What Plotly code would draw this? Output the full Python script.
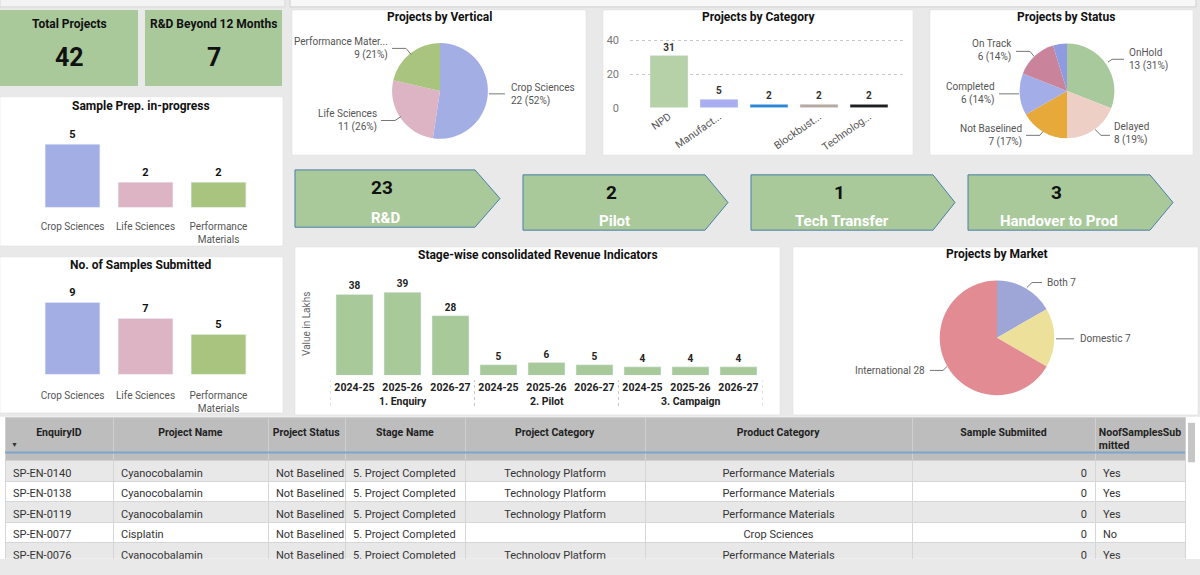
import plotly.graph_objects as go

W, H = 1200, 575
FONT = "Roboto"

def fx(px):
    return px / W

def fy(py):
    return 1 - py / H

# ---------------- DATA ----------------
kpi_titles = ["Total Projects", "R&D Beyond 12 Months"]
kpi_values = [42, 7]

verticals = ["Crop Sciences", "Life Sciences", "Performance Materials"]
vertical_tick_labels = ["Crop Sciences", "Life Sciences", "Performance<br>Materials"]
sample_prep_values = [5, 2, 2]
samples_submitted_values = [9, 7, 5]

vertical_pie_labels = ["Crop Sciences", "Life Sciences", "Performance Materials"]
vertical_pie_values = [22, 11, 9]

category_labels = ["NPD", "Manufact...", "", "Blockbust...", "Technolog..."]
category_values = [31, 5, 2, 2, 2]

status_labels = ["OnHold", "Delayed", "Not Baselined", "Completed", "On Track", "Other"]
status_values = [13, 8, 7, 6, 6, 2]

stage_names = ["R&D", "Pilot", "Tech Transfer", "Handover to Prod"]
stage_counts = [23, 2, 1, 3]

revenue_stages = ["1. Enquiry"] * 3 + ["2. Pilot"] * 3 + ["3. Campaign"] * 3
revenue_years = ["2024-25", "2025-26", "2026-27"] * 3
revenue_values = [38, 39, 28, 5, 6, 5, 4, 4, 4]

market_labels = ["Both", "Domestic", "International"]
market_values = [7, 7, 28]

table_headers = ["EnquiryID", "Project Name", "Project Status", "Stage Name",
                 "Project Category", "Product Category", "Sample Submiited",
                 "NoofSamplesSub<br>mitted"]
col_enquiry = ["SP-EN-0140", "SP-EN-0138", "SP-EN-0119", "SP-EN-0077", "SP-EN-0076"]
col_project = ["Cyanocobalamin", "Cyanocobalamin", "Cyanocobalamin", "Cisplatin", "Cyanocobalamin"]
col_status = ["Not Baselined"] * 5
col_stage = ["5. Project Completed"] * 5
col_pcat = ["Technology Platform", "Technology Platform", "Technology Platform", "", "Technology Platform"]
col_prodcat = ["Performance Materials", "Performance Materials", "Performance Materials",
               "Crop Sciences", "Performance Materials"]
col_sample = [0, 0, 0, 0, 0]
col_noof = ["Yes", "Yes", "Yes", "No", "Yes"]

# ---------------- STYLE ----------------
GREEN = "#a9c99b"
vert_colors = ["#a3aee4", "#dcb4c4", "#a8c47e"]
cat_colors = ["#b6d1a7", "#a9aef0", "#2b87d8", "#b7a8a0", "#1f1f1f"]
status_colors = ["#a8c99b", "#edcfc5", "#e6a93a", "#a3aee8", "#c9849c", "#8e9be0"]
market_colors = ["#9ea6d8", "#ede09a", "#e38b93"]

shapes = []
annotations = []

def rect(x0, y0, x1, y1, fill, line=None, lw=0, layer="below"):
    shapes.append(dict(type="rect", xref="paper", yref="paper",
                       x0=fx(x0), x1=fx(x1), y0=fy(y1), y1=fy(y0),
                       fillcolor=fill, line=dict(color=line or fill, width=lw), layer=layer))

def path(points, color="#777", width=1, fill=None, close=False, layer="above"):
    d = "M " + " L ".join(f"{fx(x):.5f},{fy(y):.5f}" for x, y in points)
    if close:
        d += " Z"
    s = dict(type="path", xref="paper", yref="paper", path=d,
             line=dict(color=color, width=width), layer=layer)
    if fill:
        s["fillcolor"] = fill
    shapes.append(s)

def ann(x, y, text, size=11, color="#222", bold=False, xanchor="center", align="center", angle=0,
        family=FONT, xref="paper"):
    annotations.append(dict(xref=xref, yref="paper", x=fx(x) if xref == "paper" else x, y=fy(y),
                            text=text, showarrow=False, xanchor=xanchor, yanchor="middle",
                            align=align, textangle=angle,
                            font=dict(family=family, size=size, color=color,
                                      weight="bold" if bold else "normal")))

# top strip
rect(0, -5, 285, 7, "#f3f3f3", "#d8d8d8", 1)
rect(290, -5, 1196, 7, "#f7f7f7", "#cfcfcf", 1)

# KPI cards
kpi_boxes = [(0, 10, 138, 87), (145, 10, 282, 87)]
for (x0, y0, x1, y1), t, v in zip(kpi_boxes, kpi_titles, kpi_values):
    rect(x0, y0, x1, y1, GREEN)
    ann((x0 + x1) / 2, 24, t, size=12, color="#111", bold=True)
    ann((x0 + x1) / 2, 58, str(v), size=25, color="#111", bold=True)

# panels
panels = [(0, 98, 283, 249), (0, 260, 283, 418), (292, 10, 586, 157), (603, 10, 913, 157),
          (930, 10, 1193, 157), (295, 250, 780, 420), (793, 250, 1198, 420)]
for p in panels:
    rect(*p, "#ffffff", "#dddddd", 0.5)
rect(0, 422, 1200, 566, "#ffffff")

# titles
ann(141, 107, "Sample Prep. in-progress", 12, "#111", True)
ann(141, 268, "No. of Samples Submitted", 12, "#111", True)
ann(439, 17, "Projects by Vertical", 12, "#111", True)
ann(758, 17, "Projects by Category", 12, "#111", True)
ann(1066, 17, "Projects by Status", 12, "#111", True)
ann(538, 258, "Stage-wise consolidated Revenue Indicators", 12, "#111", True)
ann(997, 257, "Projects by Market", 12, "#111", True)

# chevrons
chevrons = [(295, 475, 500, 172, 230), (523, 705, 728, 177, 233),
            (751, 933, 955, 177, 233), (968, 1150, 1173, 177, 233)]
for (x0, x1, xt, y0, y1), name, cnt in zip(chevrons, stage_names, stage_counts):
    path([(x0, y0), (x1, y0), (xt, (y0 + y1) / 2), (x1, y1), (x0, y1)],
         color="#4a7fa8", width=1, fill=GREEN, close=True, layer="below")
    cx = (x0 + x1) / 2
    ann(cx - 3, y0 + 18, str(cnt), 19, "#111", True)
    ann(cx, y1 - 9, name, 15, "#ffffff", True)

fig = go.Figure()

def px_domain_x(a, b):
    return [fx(a), fx(b)]

def px_domain_y(top, bottom):
    return [fy(bottom), fy(top)]

# --- Sample prep bars (x, y)
fig.add_trace(go.Bar(x=verticals, y=sample_prep_values, marker_color=vert_colors, width=0.75,
                     text=sample_prep_values, textposition="outside", cliponaxis=False,
                     textfont=dict(family=FONT, size=11, color="#111", weight="bold"),
                     xaxis="x", yaxis="y", hoverinfo="skip"))
# --- Samples submitted (x2, y2)
fig.add_trace(go.Bar(x=verticals, y=samples_submitted_values, marker_color=vert_colors, width=0.75,
                     text=samples_submitted_values, textposition="outside", cliponaxis=False,
                     textfont=dict(family=FONT, size=11, color="#111", weight="bold"),
                     xaxis="x2", yaxis="y2", hoverinfo="skip"))
# --- Category (x3, y3)
cat_idx = list(range(len(category_values)))
fig.add_trace(go.Bar(x=cat_idx, y=category_values, marker_color=cat_colors, width=0.76,
                     text=category_values, textposition="outside", cliponaxis=False,
                     textfont=dict(family=FONT, size=10, color="#333", weight="bold"),
                     xaxis="x3", yaxis="y3", hoverinfo="skip"))
# --- Revenue (x4, y4): positions by index, year ticks + stage group labels
rev_idx = list(range(len(revenue_values)))
fig.add_trace(go.Bar(x=rev_idx, y=revenue_values, marker_color="#a8c99a",
                     width=0.77, text=revenue_values, textposition="outside", cliponaxis=False,
                     textfont=dict(family=FONT, size=10, color="#222", weight="bold"),
                     xaxis="x4", yaxis="y4", hoverinfo="skip"))

groups = []
for i, s in enumerate(revenue_stages):
    if not groups or groups[-1][0] != s:
        groups.append([s, i, i])
    else:
        groups[-1][2] = i
for s, a, b in groups:
    ann((a + b) / 2, 406, s, 10.5, "#222", True, xref="x4")
    for xb in (a - 0.5, b + 0.5):
        shapes.append(dict(type="line", xref="x4", yref="paper", x0=xb, x1=xb,
                           y0=fy(411), y1=fy(385), line=dict(color="#c8c8c8", width=1, dash="dot")))

# --- Pies
def pie(labels, values, colors, cx, cy, r):
    fig.add_trace(go.Pie(labels=labels, values=values, sort=False, direction="clockwise",
                         rotation=0, textinfo="none", hoverinfo="skip",
                         marker=dict(colors=colors, line=dict(width=0)),
                         domain=dict(x=px_domain_x(cx - r, cx + r), y=px_domain_y(cy - r, cy + r)),
                         showlegend=False))

pie(vertical_pie_labels, vertical_pie_values, vert_colors, 440, 92, 48.5)
pie(status_labels, status_values, status_colors, 1067, 92, 48)
pie(market_labels, market_values, market_colors, 997, 342, 58)

LBL = "#555"
def trunc(s, n=17):
    return s if len(s) <= n else s[:n] + "..."

vt = sum(vertical_pie_values)
vtxt = [f"{trunc(l)}<br>{v} ({round(100 * v / vt)}%)" for l, v in zip(vertical_pie_labels, vertical_pie_values)]
ann(509, 95.5, vtxt[0], 10, LBL, False, "left", "left")
ann(379, 122, vtxt[1], 10, LBL, False, "right", "right")
ann(390, 49, vtxt[2], 10, LBL, False, "right", "right")
path([(489, 95), (505, 95)])
path([(381, 122), (395, 122), (401, 118)])
path([(392, 49), (406, 49), (411, 55)])

st = sum(status_values)
stxt = [f"{l}<br>{v} ({round(100 * v / st)}%)" for l, v in zip(status_labels, status_values)]
ann(1127, 60, stxt[0], 10, LBL, False, "left", "left")
ann(1112, 135, stxt[1], 10, LBL, False, "left", "left")
ann(1024, 137, stxt[2], 10, LBL, False, "right", "right")
ann(997, 95, stxt[3], 10, LBL, False, "right", "right")
ann(1014, 51, stxt[4], 10, LBL, False, "right", "right")
path([(1108, 63), (1112, 60), (1124, 60)])
path([(1095, 131), (1101, 137), (1110, 137)])
path([(1026, 137), (1040, 137), (1043, 133)])
path([(999, 95), (1019, 95)])
path([(1016, 52), (1030, 52), (1034, 57)])

mtxt = [f"{l} {v}" for l, v in zip(market_labels, market_values)]
ann(1045, 286, mtxt[0], 10, LBL, False, "left", "left")
ann(1078, 343, mtxt[1], 10, LBL, False, "left", "left")
ann(927, 375, mtxt[2], 10, LBL, False, "right", "right")
path([(1027, 291), (1032, 286), (1042, 286)])
path([(1056, 343), (1074, 343)])
path([(930, 375), (943, 375), (947, 371)])

ann(306, 328, "Value in Lakhs", 10, "#666", False, angle=-90)

# --- Table
NB = "\u00a0"
def nb(col):
    return [str(s).replace(" ", NB) for s in col]

fills = ["#e8e8e8", "#ffffff", "#e8e8e8", "#ffffff", "#e8e8e8"]
fig.add_trace(go.Table(
    domain=dict(x=px_domain_x(5, 1185), y=px_domain_y(423, 566)),
    columnwidth=[108, 155, 77, 120, 180, 267, 183, 90],
    header=dict(values=[f"<b>{h.replace(' ', NB)}</b>" for h in table_headers], height=35,
                fill_color="#bdbdbd", line=dict(color="#d0d0d0", width=1), align="center",
                font=dict(family=FONT, size=10.5, color="#222")),
    cells=dict(values=[nb(col_enquiry), nb(col_project), nb(col_status), nb(col_stage),
                       nb(col_pcat), nb(col_prodcat), col_sample, nb(col_noof)],
               height=20.5, fill_color=[fills] * 8, line=dict(color="#d6d6d6", width=1),
               align=["left", "left", "left", "left", "center", "center", "right", "left"],
               font=dict(family=FONT, size=11, color="#333"))))
path([(5, 458), (1185, 458)], color="#7ea6cc", width=2)
ann(14, 450, "▼", 7, "#333")
rect(1188, 428, 1195, 468, "#c6c6c6", layer="above")

axis_common = dict(showgrid=False, zeroline=False, showline=False, ticks="")

fig.update_layout(
    width=W, height=H, margin=dict(l=0, r=0, t=0, b=0),
    paper_bgcolor="#e9e9e9", plot_bgcolor="rgba(0,0,0,0)", showlegend=False,
    font=dict(family=FONT),
    shapes=shapes, annotations=annotations,
    xaxis=dict(domain=px_domain_x(36, 255), range=[-0.5, 2.5], tickmode="array", anchor="y",
               tickvals=verticals, ticktext=vertical_tick_labels, ticklabelstandoff=12,
               tickfont=dict(size=10, color="#555"), **axis_common),
    yaxis=dict(domain=px_domain_y(135, 210), range=[0, 5.86], showticklabels=False, anchor="x",
               **axis_common),
    xaxis2=dict(domain=px_domain_x(36, 255), range=[-0.5, 2.5], tickmode="array", anchor="y2",
                tickvals=verticals, ticktext=vertical_tick_labels, ticklabelstandoff=14,
                tickfont=dict(size=10, color="#555"), **axis_common),
    yaxis2=dict(domain=px_domain_y(290, 379), range=[0, 11], showticklabels=False, anchor="x2",
                **axis_common),
    xaxis3=dict(domain=px_domain_x(630, 905), range=[-0.78, 4.72], tickmode="array", anchor="y3",
                tickvals=cat_idx, ticktext=category_labels, tickangle=-35,
                tickfont=dict(size=10.5, color="#555"), **axis_common),
    yaxis3=dict(domain=px_domain_y(35, 109), range=[0, 43.5], tickvals=[0, 20, 40], anchor="x3",
                showgrid=True, gridcolor="#c8c8c8", griddash="dot", zeroline=False, showline=False,
                ticks="", ticklabelstandoff=10, tickfont=dict(size=11, color="#777")),
    xaxis4=dict(domain=px_domain_x(330.5, 762.5), range=[-0.5, 8.5], anchor="y4", tickangle=0,
                tickmode="array", tickvals=rev_idx, ticktext=revenue_years, ticklabelstandoff=4,
                tickfont=dict(size=10.5, color="#222", weight="bold"), **axis_common),
    yaxis4=dict(domain=px_domain_y(270, 380), range=[0, 51], showticklabels=False, anchor="x4",
                **axis_common),
)

fig.write_html("out.html", post_script="document.body.style.margin='0';",
               config={"displayModeBar": False})
